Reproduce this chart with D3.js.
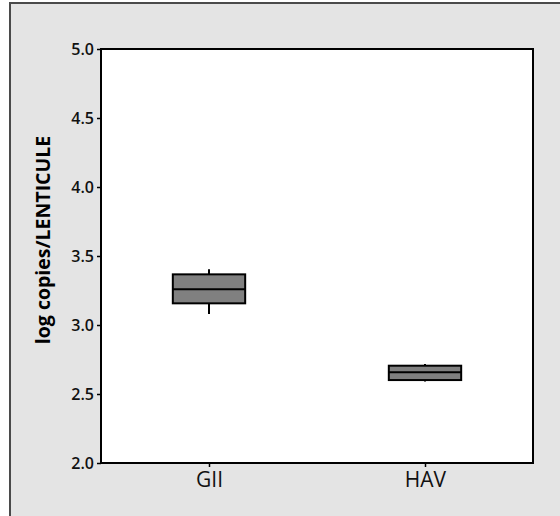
<!DOCTYPE html>
<html>
<head>
<meta charset="utf-8">
<script src="https://cdn.jsdelivr.net/npm/d3@7"></script>
<style>
	body { margin: 0; background: #fff; }
	svg { display: block; }
</style>
</head>
<body>
<svg></svg>
<script>
// box plot summaries
const categories = ['GII', 'HAV'];
const whiskerLow = [3.08, 2.59];
const q1 = [3.157, 2.601];
const median = [3.259, 2.657];
const q3 = [3.367, 2.705];
const whiskerHigh = [3.404, 2.717];
const yTicks = [2.0, 2.5, 3.0, 3.5, 4.0, 4.5, 5.0];

let data = categories.map((c, i) => ({
	name: c,
	pos: i + 1,
	lo: whiskerLow[i],
	q1: q1[i],
	med: median[i],
	q3: q3[i],
	hi: whiskerHigh[i]
}));

let svgWidth = 560,
	svgHeight = 516;
let margin = { top: 49, right: 27, bottom: 53, left: 101 };
let width = svgWidth - margin.left - margin.right;
let height = svgHeight - margin.top - margin.bottom;

let svg = d3.select('svg').attr('width', svgWidth).attr('height', svgHeight);

// grey panel with dark border on top/left
svg.append('rect')
	.attr('x', 10).attr('y', 3)
	.attr('width', svgWidth).attr('height', svgHeight)
	.attr('fill', '#e4e4e4')
	.attr('stroke', '#4a4a4a')
	.attr('stroke-width', 2);

let g = svg.append('g').attr('transform', 'translate(' + margin.left + ',' + margin.top + ')');

let x = d3.scaleLinear().domain([0.5, 2.5]).range([0, width]);
let y = d3.scaleLinear().domain([2, 5]).range([height, 0]);

g.append('rect')
	.attr('width', width).attr('height', height)
	.attr('fill', '#fff');

let font = '"Open Sans", "DejaVu Sans", sans-serif';

let yAxis = g.append('g')
	.call(d3.axisLeft(y).tickValues(yTicks).tickFormat(d3.format('.1f')).tickSize(4).tickPadding(3));
yAxis.select('.domain').remove();
yAxis.selectAll('line').attr('stroke', '#000').attr('stroke-width', 1.5);
yAxis.selectAll('text')
	.attr('fill', '#111')
	.style('font-family', font)
	.style('font-size', '16px')
	.style('font-weight', '600');

let xAxis = g.append('g')
	.attr('transform', 'translate(0,' + height + ')')
	.call(d3.axisBottom(x).tickValues(data.map((d) => d.pos)).tickFormat((d, i) => categories[i]).tickSize(4).tickPadding(5));
xAxis.select('.domain').remove();
xAxis.selectAll('line').attr('stroke', '#000').attr('stroke-width', 1.5);
xAxis.selectAll('text')
	.attr('fill', '#111')
	.style('font-family', font)
	.style('font-size', '21px');

// frame
g.append('rect')
	.attr('width', width).attr('height', height)
	.attr('fill', 'none')
	.attr('stroke', '#000')
	.attr('stroke-width', 2);

// y label
svg.append('text')
	.attr('transform', 'translate(50,240) rotate(-90)')
	.attr('text-anchor', 'middle')
	.style('font-family', font)
	.style('font-size', '19.5px')
	.style('font-weight', 'bold')
	.attr('fill', '#000')
	.text('log copies/LENTICULE');

let boxW = 0.335;
let boxes = g.selectAll('.box').data(data).enter().append('g').attr('class', 'box');

boxes.append('line')
	.attr('x1', (d) => x(d.pos)).attr('x2', (d) => x(d.pos))
	.attr('y1', (d) => y(d.hi)).attr('y2', (d) => y(d.q3))
	.attr('stroke', '#000').attr('stroke-width', 2);

boxes.append('line')
	.attr('x1', (d) => x(d.pos)).attr('x2', (d) => x(d.pos))
	.attr('y1', (d) => y(d.q1)).attr('y2', (d) => y(d.lo))
	.attr('stroke', '#000').attr('stroke-width', 2);

boxes.append('rect')
	.attr('x', (d) => x(d.pos - boxW / 2))
	.attr('width', (d) => x(d.pos + boxW / 2) - x(d.pos - boxW / 2))
	.attr('y', (d) => y(d.q3))
	.attr('height', (d) => y(d.q1) - y(d.q3))
	.attr('fill', '#808080')
	.attr('stroke', '#000')
	.attr('stroke-width', 2);

boxes.append('line')
	.attr('x1', (d) => x(d.pos - boxW / 2)).attr('x2', (d) => x(d.pos + boxW / 2))
	.attr('y1', (d) => y(d.med)).attr('y2', (d) => y(d.med))
	.attr('stroke', '#000').attr('stroke-width', 2);
</script>
</body>
</html>
